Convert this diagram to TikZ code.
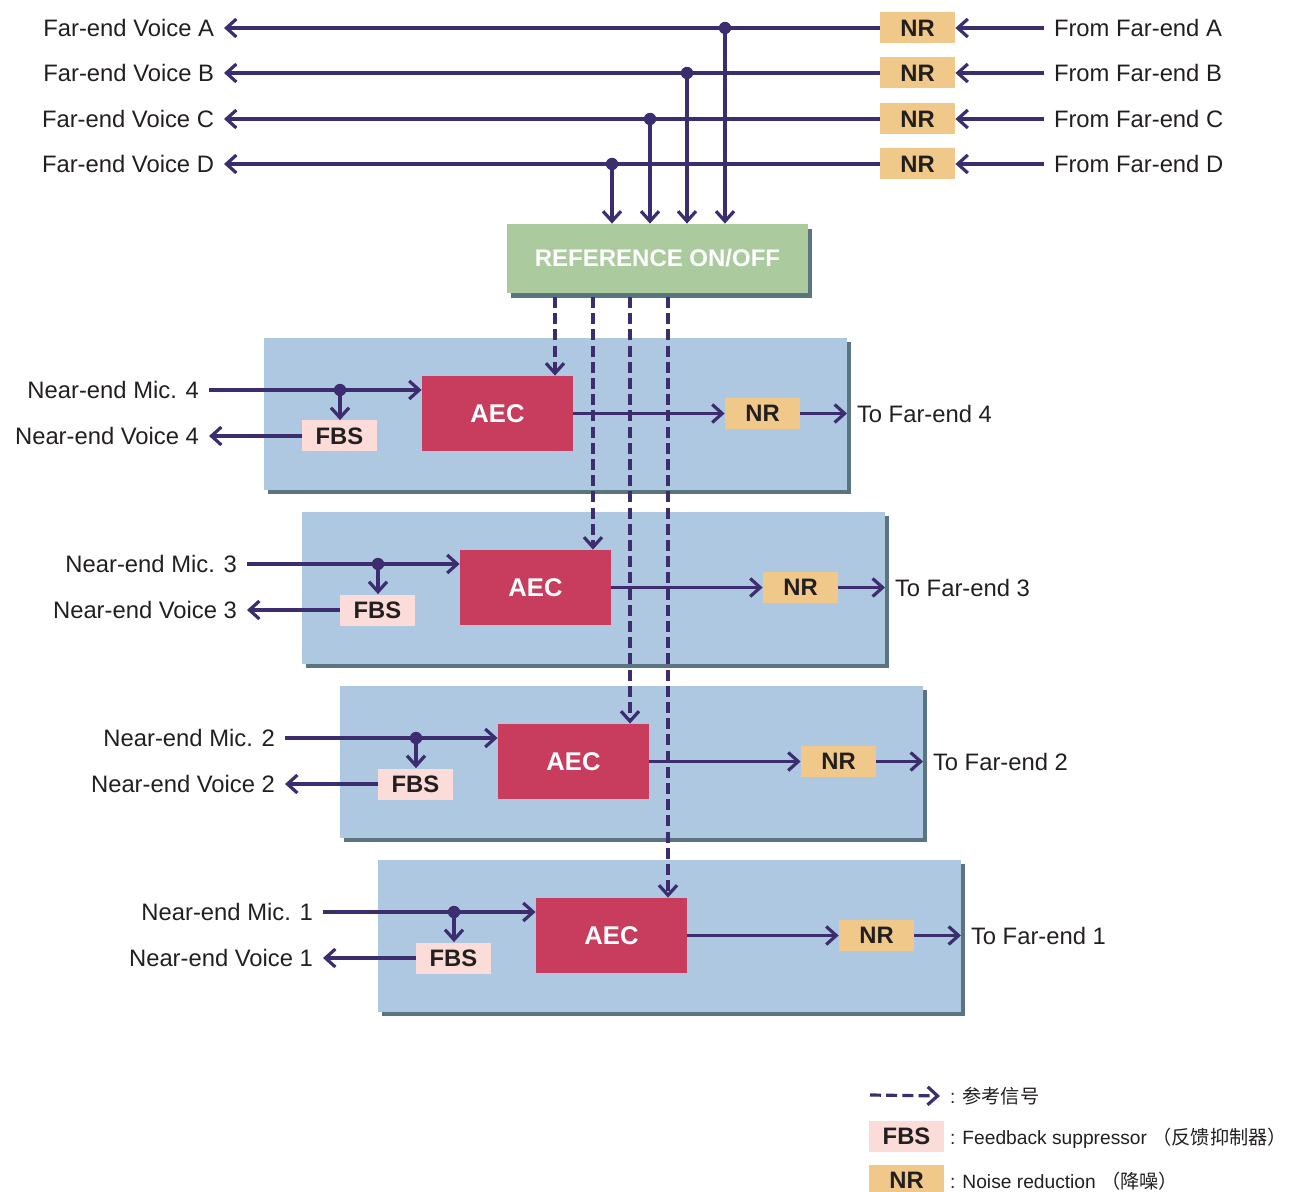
\documentclass[tikz,border=0pt]{standalone}
\usepackage{fontspec}
\setmainfont{Liberation Sans}
\newfontfamily\cjk{Noto Sans CJK SC}
\usetikzlibrary{arrows.meta,shadows}
\definecolor{ln}{HTML}{3B2D6E}
\definecolor{txt}{HTML}{231F20}
\definecolor{nrc}{HTML}{F0C98A}
\definecolor{fbsc}{HTML}{FCDCD8}
\definecolor{aecc}{HTML}{C83C5E}
\definecolor{panc}{HTML}{AFC8E2}
\definecolor{shc}{HTML}{5B7482}
\definecolor{grn}{HTML}{ABCB9F}
\begin{document}
\begin{tikzpicture}[x=0.5pt,y=-0.5pt,
  sig/.style={draw=ln, line width=1.6pt, -{Straight Barb[length=5pt,width=9pt]}},
  refsig/.style={sig, dash pattern=on 5.5pt off 2.6pt},
  lbl/.style={inner sep=0pt, outer sep=5pt, font=\fontsize{11.9}{14}\selectfont, text=txt},
  lgl/.style={lbl, font=\fontsize{9.6}{12}\selectfont},
  nrbox/.style={fill=nrc, minimum width=37.5pt, minimum height=15.5pt, inner sep=0pt, text=txt,
    font=\bfseries\fontsize{11.9}{14}\selectfont},
  fbsbox/.style={nrbox, fill=fbsc},
  aecbox/.style={fill=aecc, minimum width=75.5pt, minimum height=37.5pt, inner sep=0pt, text=white,
    font=\bfseries\fontsize{12.8}{14}\selectfont},
  panel/.style={fill=panc, minimum width=291.5pt, minimum height=76pt, inner sep=0pt,
    general shadow={fill=shc, shadow xshift=2pt, shadow yshift=-2pt}},
  refbox/.style={fill=grn, minimum width=150.5pt, minimum height=34.5pt, inner sep=0pt, text=white,
    font=\bfseries\fontsize{12}{14}\selectfont,
    general shadow={fill=shc, shadow xshift=2pt, shadow yshift=-2.4pt}},
  dot/.style={circle, fill=ln, inner sep=0pt, minimum size=6.2pt}
]
\useasboundingbox (0,0) rectangle (1290,1192);

% far-end rows
\foreach \L/\y/\jx in {A/28/725, B/73/687, C/119/650, D/164/612} {
  \node[nrbox] (nr\L) at (917.5,\y) {NR};
  \node[lbl, anchor=east] (fv\L) at (224,\y) {Far-end Voice \L};
  \node[lbl, anchor=west] (ff\L) at (1044,\y) {From Far-end \L};
  \draw[sig] (nr\L.west) -- (fv\L.east);
  \draw[sig] (ff\L.west) -- (nr\L.east);
  \node[dot] (j\L) at (\jx,\y) {};
}

\node[refbox] (ref) at (657.5,258.5) {REFERENCE ON/OFF};
\foreach \L in {A,B,C,D} {
  \draw[sig] (j\L.center) -- (j\L |- ref.north);
}

% panels
\foreach \k/\i in {4/0,3/1,2/2,1/3} {
  \pgfmathsetmacro{\dx}{38*\i}
  \pgfmathsetmacro{\dy}{174*\i}
  \node[panel] (pan\k) at ({555.5+\dx},{414+\dy}) {};
  \node[aecbox] (aec\k) at ({497.5+\dx},{413.5+\dy}) {AEC};
  \node[fbsbox] (fbs\k) at ({339.5+\dx},{436+\dy}) {FBS};
  \node[nrbox] (nr\k) at ({762.5+\dx},{413.5+\dy}) {NR};
  \node[lbl, anchor=east] (mic\k) at ({209+\dx},{390+\dy}) {Near-end Mic. \k};
  \node[lbl, anchor=east] (voice\k) at ({209+\dx},{436+\dy}) {Near-end Voice \k};
  \node[lbl, anchor=west] (to\k) at ({847+\dx},{413.5+\dy}) {To Far-end \k};
  \draw[sig] (mic\k.east) -- (mic\k.east -| aec\k.west);
  \node[dot] (m\k) at ({340+\dx},{390+\dy}) {};
  \draw[sig] (m\k.center) -- (m\k |- fbs\k.north);
  \draw[sig] (fbs\k.west) -- (voice\k.east);
  \draw[sig] (aec\k.east) -- (nr\k.west);
  \draw[sig] (nr\k.east) -- (to\k.west);
}

% reference (dashed) lines
\coordinate (r4) at (555,297);
\coordinate (r3) at (593,297);
\coordinate (r2) at (630,297);
\coordinate (r1) at (668,297);
\foreach \k in {4,3,2,1} {
  \draw[refsig] (r\k) -- (r\k |- aec\k.north);
}

% legend
\coordinate (lg0) at (870,1095);
\node[lgl, anchor=west] (lgref) at (940,1096) {: {\cjk 参考信号}};
\draw[refsig] (lg0) -- (lgref.west);
\node[fbsbox] (lgfbs) at (906.5,1136.5) {FBS};
\node[lgl, anchor=west] (lgfbst) at (940,1138) {: Feedback suppressor {\cjk （反馈抑制器）}};
\node[nrbox] (lgnr) at (906.5,1180) {NR};
\node[lgl, anchor=west] (lgnrt) at (940,1181) {: Noise reduction {\cjk （降噪）}};
\end{tikzpicture}
\end{document}
